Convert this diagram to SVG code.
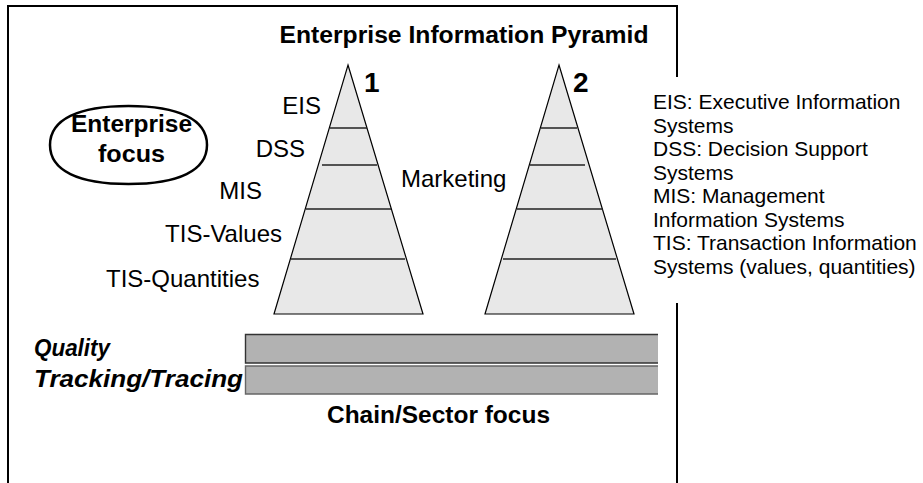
<svg xmlns="http://www.w3.org/2000/svg" width="923" height="483" viewBox="0 0 923 483">
  <style>
    text { font-family: "Liberation Sans", Arial, Helvetica, sans-serif; fill: #000; }
    .b { font-weight: bold; }
    .bi { font-weight: bold; font-style: italic; }
    .lbl { font-size: 24px; }
    .leg { font-size: 21px; }
    .pyr { fill: #e8e8e8; stroke: #000; stroke-width: 1.2; }
    .tier { stroke: #222; stroke-width: 1.4; fill: none; }
    .frame { stroke: #000; stroke-width: 2; fill: none; }
  </style>

  <!-- outer frame (right side interrupted by the legend) -->
  <g id="frame">
    <path class="frame" d="M8,483 V6 H677 V77"/>
    <path class="frame" d="M677,303 V483"/>
  </g>

  <g id="title">
    <text class="b" x="464" y="43" font-size="23" text-anchor="middle" textLength="369" lengthAdjust="spacingAndGlyphs">Enterprise Information Pyramid</text>
  </g>

  <!-- enterprise focus oval -->
  <g id="enterprise-focus">
    <path d="M50,145 C50,119.4 78.3,106 128.5,106 C178.7,106 207,119.4 207,145 C207,170.6 178.7,184 128.5,184 C78.3,184 50,170.6 50,145 Z" fill="#fff" stroke="#000" stroke-width="2.5"/>
    <text class="b" x="131.5" y="132" font-size="23" text-anchor="middle" textLength="121" lengthAdjust="spacingAndGlyphs">Enterprise</text>
    <text class="b" x="131.5" y="162" font-size="23" text-anchor="middle" textLength="67" lengthAdjust="spacingAndGlyphs">focus</text>
  </g>

  <!-- pyramid 1 -->
  <g id="pyramid-1">
    <polygon class="pyr" points="348,65 423,314 274,314"/>
    <line class="tier" x1="330" y1="128" x2="367" y2="128"/>
    <line class="tier" x1="322" y1="165" x2="377" y2="165"/>
    <line class="tier" x1="306" y1="209" x2="391" y2="209"/>
    <line class="tier" x1="291" y1="259" x2="405" y2="259"/>
    <text class="b" x="364" y="92" font-size="28">1</text>
  </g>

  <!-- pyramid 2 -->
  <g id="pyramid-2">
    <polygon class="pyr" points="559,65 634,314 485,314"/>
    <line class="tier" x1="541" y1="128" x2="577" y2="128"/>
    <line class="tier" x1="530" y1="165" x2="585" y2="165"/>
    <line class="tier" x1="517" y1="209" x2="603" y2="209"/>
    <line class="tier" x1="503" y1="259" x2="616" y2="259"/>
    <text class="b" x="573" y="92" font-size="28">2</text>
  </g>

  <!-- tier labels -->
  <g id="tier-labels">
    <text class="lbl" x="321" y="114" text-anchor="end">EIS</text>
    <text class="lbl" x="305" y="157" text-anchor="end">DSS</text>
    <text class="lbl" x="262" y="199" text-anchor="end">MIS</text>
    <text class="lbl" x="282" y="242" text-anchor="end">TIS-Values</text>
    <text class="lbl" x="106" y="287">TIS-Quantities</text>
  </g>

  <g id="marketing">
    <text class="lbl" x="401" y="187">Marketing</text>
  </g>

  <!-- legend -->
  <g id="legend">
    <text class="leg" x="653" y="109">EIS: Executive Information</text>
    <text class="leg" x="653" y="132.5">Systems</text>
    <text class="leg" x="653" y="156">DSS: Decision Support</text>
    <text class="leg" x="653" y="179.5">Systems</text>
    <text class="leg" x="653" y="203">MIS: Management</text>
    <text class="leg" x="653" y="226.5">Information Systems</text>
    <text class="leg" x="653" y="250">TIS: Transaction Information</text>
    <text class="leg" x="653" y="273.5">Systems (values, quantities)</text>
  </g>

  <!-- chain-wide bars -->
  <g id="quality-bar">
    <rect x="245" y="334.5" width="413" height="28.5" fill="#b2b2b2"/>
    <path d="M658,334.5 H245.5 V363 H658" fill="none" stroke="#333" stroke-width="1.4"/>
    <text class="bi" x="34" y="356" font-size="23" textLength="76" lengthAdjust="spacingAndGlyphs">Quality</text>
  </g>
  <g id="tracking-bar">
    <rect x="245" y="366" width="413" height="28" fill="#b2b2b2"/>
    <path d="M658,366 H245.5 V394 H658" fill="none" stroke="#666" stroke-width="1.4"/>
    <text class="bi" x="34" y="387" font-size="23" textLength="209" lengthAdjust="spacingAndGlyphs">Tracking/Tracing</text>
  </g>

  <g id="chain-focus">
    <text class="b" x="438.5" y="423" font-size="23" text-anchor="middle" textLength="223" lengthAdjust="spacingAndGlyphs">Chain/Sector focus</text>
  </g>
</svg>
